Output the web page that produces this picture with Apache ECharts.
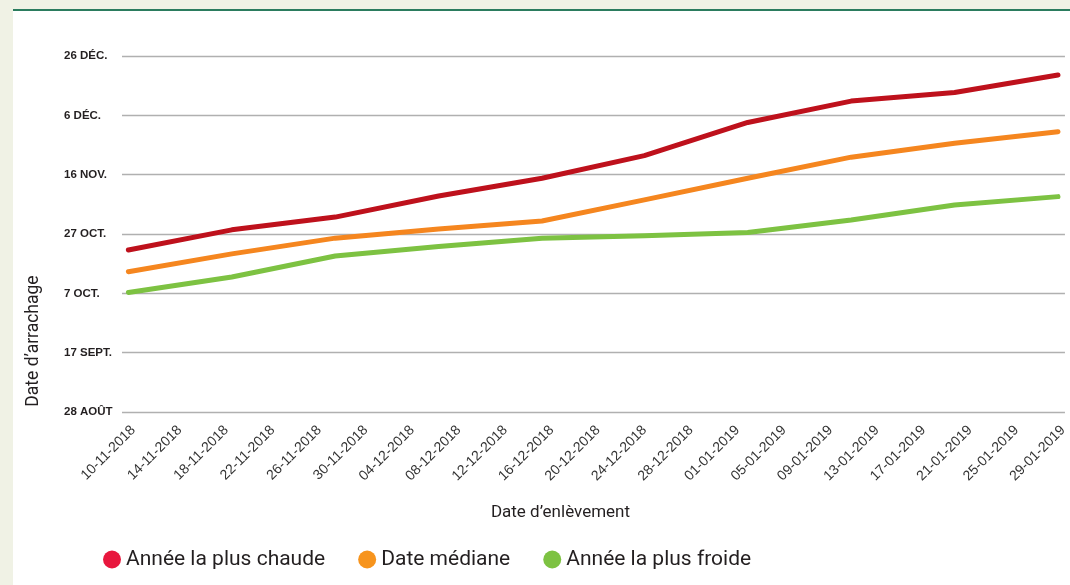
<!DOCTYPE html>
<html>
<head>
<meta charset="utf-8">
<script src="https://cdn.jsdelivr.net/npm/echarts@6/dist/echarts.min.js"></script>
<style>
  html, body { margin: 0; padding: 0; background: #f0f2e5; }
  #panel { position: absolute; left: 13px; top: 9px; width: 1057px; height: 576px; background: #ffffff; border-top: 2px solid #2b7c5e; }
  #chart { position: absolute; left: 0; top: 0; width: 1070px; height: 585px; }
</style>
</head>
<body>
<div id="panel"></div>
<div id="chart"></div>
<script>
// X tick labels (every 4 days starting 10-11-2018)
const xTickLabels = ['10-11-2018','14-11-2018','18-11-2018','22-11-2018','26-11-2018','30-11-2018','04-12-2018','08-12-2018','12-12-2018','16-12-2018','20-12-2018','24-12-2018','28-12-2018','01-01-2019','05-01-2019','09-01-2019','13-01-2019','17-01-2019','21-01-2019','25-01-2019','29-01-2019'];
// Y tick labels (every 20 days starting 28 août)
const yTickLabels = ['28 AOÛT','17 SEPT.','7 OCT.','27 OCT.','16 NOV.','6 DÉC.','26 DÉC.'];
// Sample positions: days after 10-11-2018
const sampleDays = [0, 8.9, 17.8, 26.7, 35.6, 44.4, 53.3, 62.2, 71.1, 80];
// Harvest date values: days after 28 août
const warmest = [54.6, 61.4, 65.7, 72.8, 78.8, 86.4, 97.6, 104.8, 107.7, 113.6];
const median  = [47.3, 53.3, 58.6, 61.7, 64.4, 71.5, 78.8, 85.9, 90.6, 94.5];
const coldest = [40.3, 45.5, 52.6, 55.8, 58.6, 59.4, 60.5, 64.7, 69.8, 72.6];
const seriesNames = ['Année la plus chaude', 'Date médiane', 'Année la plus froide'];

const pair = arr => sampleDays.map((d, i) => [d, arr[i]]);
const lineColors = ['#be111c', '#f5861f', '#7dc242'];
const legendColors = ['#e8173d', '#f7941d', '#7dc242'];
const xTickValues = xTickLabels.map((_, i) => i * 4);

const chart = echarts.init(document.getElementById('chart'), null, { renderer: 'canvas' });
chart.setOption({
  backgroundColor: 'transparent',
  animation: false,
  grid: { left: 122, right: 4, top: 56, bottom: 173, containLabel: false },
  legend: {
    left: 98, top: 544,
    icon: 'circle', itemWidth: 18, itemHeight: 18, itemGap: 33,
    textStyle: { fontFamily: 'Roboto, "Liberation Sans", sans-serif', fontSize: 21, color: '#231f20' },
    data: seriesNames.map((n, i) => ({ name: n, itemStyle: { color: legendColors[i] } }))
  },
  xAxis: {
    type: 'value', min: -0.55, max: 80.6,
    name: 'Date d’enlèvement', nameLocation: 'middle', nameGap: 92,
    nameTextStyle: { fontFamily: 'Roboto, "Liberation Sans", sans-serif', fontSize: 17, color: '#231f20', padding: [0, 66, 0, 0] },
    axisLine: { show: false }, axisTick: { show: false }, splitLine: { show: false },
    axisLabel: {
      rotate: 45, margin: 11, verticalAlign: 'top',
      customValues: xTickValues,
      fontFamily: '"Liberation Sans", Arial, sans-serif', fontSize: 14, color: '#333333',
      formatter: v => xTickLabels[Math.round(v / 4)]
    }
  },
  yAxis: {
    type: 'value', min: 0, max: 120, interval: 20,
    name: 'Date d’arrachage', nameLocation: 'middle', nameGap: 79,
    nameTextStyle: { fontFamily: 'Roboto, "Liberation Sans", sans-serif', fontSize: 17.5, color: '#231f20', padding: [0, 214, 0, 0] },
    axisLine: { show: false }, axisTick: { show: false },
    splitLine: { lineStyle: { color: '#b0b0b0', width: 1.3 } },
    axisLabel: {
      align: 'left', margin: 58,
      fontFamily: '"Liberation Sans", Arial, sans-serif', fontWeight: 'bold', fontSize: 11.5, color: '#231f20',
      formatter: v => yTickLabels[Math.round(v / 20)]
    }
  },
  series: [warmest, median, coldest].map((arr, i) => ({
    name: seriesNames[i], type: 'line', data: pair(arr),
    showSymbol: false, symbol: 'none',
    lineStyle: { color: lineColors[i], width: 5, cap: 'round', join: 'round' },
    itemStyle: { color: legendColors[i] }
  }))
});
</script>
</body>
</html>
